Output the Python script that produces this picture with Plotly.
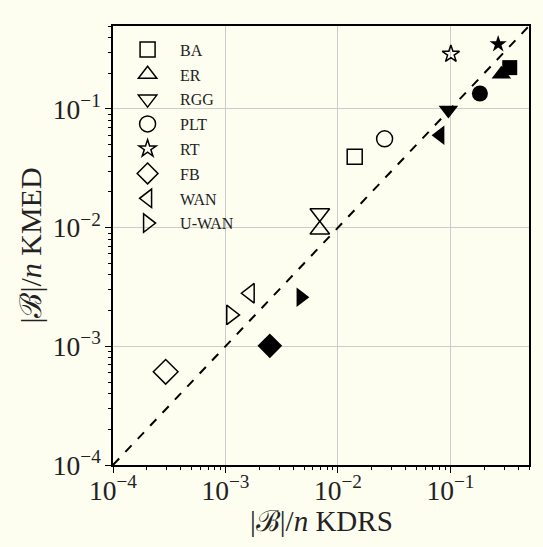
import math
import plotly.graph_objects as go

# Graph families, in legend order
families = ["BA", "ER", "RGG", "PLT", "RT", "FB", "WAN", "U-WAN"]
symbols = ["square", "triangle-up", "triangle-down", "circle", "star", "diamond",
           "triangle-left", "triangle-right"]
sizes = [15, 17, 17, 16, 13, 19, 17, 17]

# |B|/n for the first instance of each family (open markers)
kdrs_open = [0.0141, 0.0069, 0.0069, 0.026, 0.101, 0.000294, 0.00165, 0.00112]
kmed_open = [0.0395, 0.0096, 0.0133, 0.056, 0.29, 0.00061, 0.0028, 0.00184]

# |B|/n for the second instance of each family (filled markers)
kdrs_fill = [0.337, 0.284, 0.096, 0.183, 0.266, 0.00248, 0.081, 0.00468]
kmed_fill = [0.223, 0.196, 0.098, 0.135, 0.352, 0.00101, 0.060, 0.00259]

# Axis limits shared by both axes and by the identity line
lims = [1e-4, 0.5]
log_range = [math.log10(v) for v in lims]

BG = "#fdfdf0"
FONT = "Liberation Serif"

fig = go.Figure()

fig.add_trace(go.Scatter(
    x=lims, y=lims, mode="lines",
    line=dict(color="black", width=2, dash="dash"),
    showlegend=False, hoverinfo="skip",
))

for i, fam in enumerate(families):
    fig.add_trace(go.Scatter(
        x=[kdrs_open[i]], y=[kmed_open[i]], mode="markers", name=fam,
        legendgroup=fam,
        marker=dict(symbol=symbols[i] + "-open", size=sizes[i], color="black",
                    line=dict(color="black", width=1.5)),
    ))
    fig.add_trace(go.Scatter(
        x=[kdrs_fill[i]], y=[kmed_fill[i]], mode="markers", name=fam,
        legendgroup=fam, showlegend=False,
        marker=dict(symbol=symbols[i], size=sizes[i], color="black",
                    line=dict(color="black", width=0)),
    ))

axis_common = dict(
    type="log",
    range=log_range,
    dtick=1,
    exponentformat="power",
    showgrid=True, gridcolor="#cccccc", gridwidth=1,
    showline=True, linecolor="black", linewidth=1.5, mirror=True,
    ticks="outside", ticklen=6, tickwidth=1.2, tickcolor="black",
    minor=dict(ticks="outside", ticklen=3, tickwidth=1, tickcolor="black",
               showgrid=False),
    tickfont=dict(family=FONT, size=22, color="#222222"),
    zeroline=False,
)

fig.update_xaxes(ticklabelstandoff=-5, **axis_common)
fig.update_yaxes(
    title=dict(text="|ℬ|/<i>n</i> KMED", font=dict(family=FONT, size=30, color="#222222"),
               standoff=2),
    **axis_common,
)

# x-axis title placed just under the tick labels
fig.add_annotation(
    text="|ℬ|/<i>n</i> KDRS", xref="paper", yref="paper", x=0.5, y=0,
    xanchor="center", yanchor="middle", yshift=-56, showarrow=False,
    font=dict(family=FONT, size=29, color="#222222"),
)

fig.update_layout(
    width=543, height=547,
    margin=dict(l=113, r=12, t=26, b=82),
    paper_bgcolor=BG, plot_bgcolor=BG,
    font=dict(family=FONT, color="#222222"),
    legend=dict(
        x=0.005, y=0.985, xanchor="left", yanchor="top",
        bgcolor="rgba(0,0,0,0)", borderwidth=0,
        font=dict(family=FONT, size=16, color="#222222"),
        traceorder="grouped", tracegroupgap=1, itemwidth=55,
    ),
)

fig.write_html("out.html")
